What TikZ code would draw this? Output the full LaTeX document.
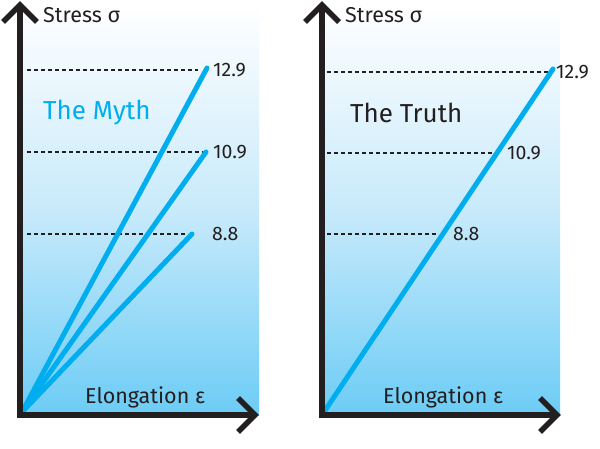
\documentclass[tikz,border=0pt]{standalone}
\usepackage{fontspec}
\setmainfont{Fira Sans}
\definecolor{axiscol}{RGB}{35,31,32}
\definecolor{linecol}{RGB}{0,174,239}
\definecolor{bgbottom}{RGB}{108,204,245}
\definecolor{bgmid}{RGB}{200,234,251}
\begin{document}
\begin{tikzpicture}[x=1pt,y=-1pt,
  axis/.style={draw=axiscol,line width=5.5pt,miter limit=10,line join=miter},
  curve/.style={draw=linecol,line width=5pt,line cap=round},
  guide/.style={draw=axiscol,line width=1.1pt,dash pattern=on 4pt off 3pt},
  val/.style={anchor=west,inner sep=0pt,text=axiscol,font=\fontsize{19.5}{22}\selectfont},
  axlab/.style={anchor=west,inner sep=0pt,text=axiscol,font=\fontsize{21.5}{25}\selectfont},
  title/.style={anchor=west,inner sep=0pt,font=\fontsize{26}{30}\selectfont},
  bg/.style={top color=white,bottom color=bgbottom,middle color=bgmid,draw=none}
]
\useasboundingbox (0,0) rectangle (600,449);
\fill[white] (0,0) rectangle (600,449);
% backgrounds
\path[bg] (20,5) rectangle (259,415);
\path[bg] (322,5) rectangle (560,415);

% ---------- left panel ----------
\coordinate (O1) at (22,412);
\coordinate (A1) at (207,68);
\coordinate (B1) at (206,152);
\coordinate (C1) at (192,234);
\coordinate (g1s) at (27,70);  \coordinate (g1e) at (198,70);
\coordinate (g2s) at (27,152); \coordinate (g2e) at (203,152);
\coordinate (g3s) at (27,234); \coordinate (g3e) at (188,234);
\draw[guide] (g1s) -- (g1e);
\draw[guide] (g2s) -- (g2e);
\draw[guide] (g3s) -- (g3e);
\draw[curve] (O1) -- (A1);
\draw[curve] (O1) -- (B1);
\draw[curve] (O1) -- (C1);
\coordinate (ytop1) at (20,5);
\coordinate (corner1) at (20,415);
\coordinate (xend1) at (255,415);
\draw[axis] (ytop1) -- (corner1) -- (xend1);
\draw[axis] (3,22) -- (ytop1) -- (37,22);
\draw[axis] (238,398) -- (xend1) -- (238,432);
\node[axlab] (s1) at (43,15) {Stress σ};
\node[axlab] (e1) at (85,397) {Elongation ε};
\node[title,text=linecol] (myth) at (43,113) {The Myth};
\node[val] (v1a) at (213,70) {12.9};
\node[val] (v1b) at (213,152) {10.9};
\node[val] (v1c) at (212,234) {8.8};

% ---------- right panel ----------
\coordinate (O2) at (324,412);
\coordinate (A2) at (553,69);
\coordinate (h1s) at (327,72);  \coordinate (h1e) at (550,72);
\coordinate (h2s) at (327,153); \coordinate (h2e) at (495,153);
\coordinate (h3s) at (327,234); \coordinate (h3e) at (438,234);
\draw[guide] (h1s) -- (h1e);
\draw[guide] (h2s) -- (h2e);
\draw[guide] (h3s) -- (h3e);
\draw[curve] (O2) -- (A2);
\coordinate (ytop2) at (322,5);
\coordinate (corner2) at (322,415);
\coordinate (xend2) at (557,415);
\draw[axis] (ytop2) -- (corner2) -- (xend2);
\draw[axis] (305,22) -- (ytop2) -- (339,22);
\draw[axis] (540,398) -- (xend2) -- (540,432);
\node[axlab] (s2) at (345,15) {Stress σ};
\node[axlab] (e2) at (383,397) {Elongation ε};
\node[title,text=axiscol] (truth) at (350,113) {The Truth};
\node[val] (v2a) at (556,72) {12.9};
\node[val] (v2b) at (507,153) {10.9};
\node[val] (v2c) at (453,234) {8.8};
\end{tikzpicture}
\end{document}
